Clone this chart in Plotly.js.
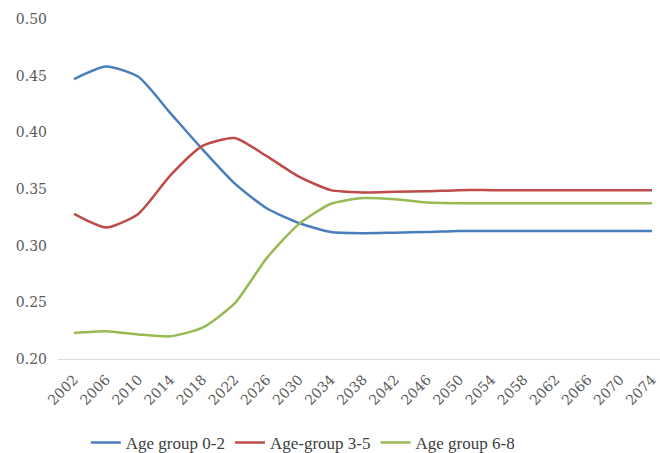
<!DOCTYPE html>
<html>
<head>
<meta charset="utf-8">
<script src="https://cdn.plot.ly/plotly-3.0.1.min.js"></script>
<style>html,body{margin:0;padding:0;background:#fff;}#chart{width:660px;height:453px;}</style>
</head>
<body>
<div id="chart"></div>
<script>
const years = ["2002","2006","2010","2014","2018","2022","2026","2030","2034","2038","2042","2046","2050","2054","2058","2062","2066","2070","2074"];
const age02 = [0.447,0.458,0.449,0.417,0.385,0.355,0.333,0.320,0.312,0.311,0.3115,0.312,0.313,0.313,0.313,0.313,0.313,0.313,0.313];
const age35 = [0.328,0.316,0.328,0.362,0.388,0.395,0.379,0.361,0.349,0.347,0.3475,0.348,0.349,0.349,0.349,0.349,0.349,0.349,0.349];
const age68 = [0.223,0.2245,0.2217,0.220,0.2276,0.249,0.289,0.319,0.337,0.342,0.341,0.338,0.3374,0.3374,0.3374,0.3374,0.3374,0.3374,0.3374];
const names = ["Age group 0-2","Age-group 3-5","Age group 6-8"];
const colors = ["#4A7EBB","#BE4B48","#98B954"];

const series = [age02, age35, age68];
const traces = series.map((vals, i) => ({
  type: "scatter", mode: "lines", x: years, y: vals, name: names[i],
  line: {color: colors[i], width: 2.5, shape: "spline", smoothing: 0.6}
}));

const font = {family: "DejaVu Serif, Liberation Serif, serif", size: 14, color: "#595959"};
const layout = {
  width: 660, height: 453,
  margin: {l: 58, r: 0, t: 19, b: 94},
  paper_bgcolor: "#fff", plot_bgcolor: "#fff",
  font: font,
  showlegend: true,
  legend: {orientation: "h", xref: "container", yref: "container", x: 0.13, xanchor: "left", y: 0.022, yanchor: "middle",
           font: {family: "Liberation Serif, serif", size: 17, color: "#404040"}, itemwidth: 30, tracegroupgap: 0},
  xaxis: {type: "category", range: [-0.5, 18.25], tickangle: -45, showgrid: false, automargin: false,
          showline: true, linecolor: "#D9D9D9", linewidth: 1, ticks: "outside", ticklen: 6, tickcolor: "rgba(0,0,0,0)", tickfont: font},
  yaxis: {range: [0.20, 0.50], dtick: 0.05, tick0: 0.20, tickformat: ".2f", showgrid: false, automargin: false,
          zeroline: false, showline: false, ticks: "", ticklabelstandoff: 10, tickfont: font}
};
Plotly.newPlot("chart", traces, layout, {displayModeBar: false, staticPlot: true});
</script>
</body>
</html>
